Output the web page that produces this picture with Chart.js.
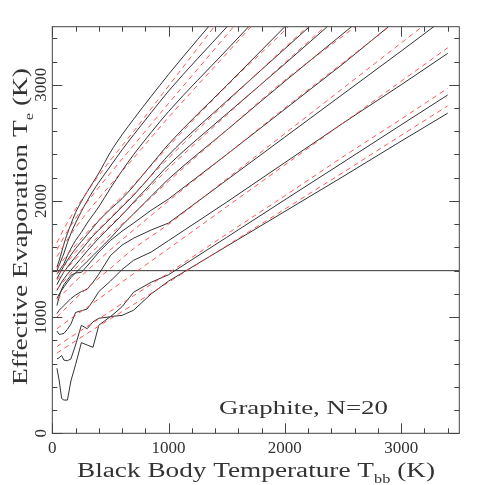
<!DOCTYPE html>
<html>
<head>
<meta charset="utf-8">
<script src="https://cdn.jsdelivr.net/npm/chart.js@4.4.1/dist/chart.umd.min.js"></script>
<style>
  html, body { margin: 0; padding: 0; background: #fff; }
  #wrap { width: 485px; height: 485px; }
</style>
</head>
<body>
<div id="wrap"><canvas id="grafico" width="485" height="485"></canvas></div>
<script>
// Tbb grid (K) for the computed curves
var evapTbb = [40, 60, 80, 100, 130, 160, 200, 250, 300, 350, 400, 500, 600, 700, 850, 1000, 1500, 2000, 2500, 3000, 3400];

// effective evaporation temperature, black solid curves (K)
var evap1  = [1430, 1490, 1560, 1630, 1720, 1800, 1900, 1995, 2080, 2160, 2240, 2420, 2570, 2705, 2900, 3090, 3685, null, null, null, null];
var evap2  = [1400, 1450, 1500, 1550, 1640, 1720, 1810, 1910, 2000, 2085, 2160, 2300, 2440, 2570, 2760, 2946, 3497, 4047, null, null, null];
var evap3  = [1370, 1400, 1430, 1460, 1530, 1590, 1660, 1730, 1810, 1880, 1950, 2110, 2260, 2400, 2590, 2770, 3300, 3830, null, null, null];
var evap4  = [1330, 1370, 1405, 1440, 1490, 1535, 1590, 1650, 1710, 1770, 1830, 1930, 2020, 2130, 2310, 2489, 2995, 3500, 4000, null, null];
var evap5  = [1280, 1320, 1355, 1390, 1430, 1470, 1520, 1580, 1640, 1700, 1750, 1850, 1950, 2050, 2220, 2395, 2860, 3310, 3760, null, null];
var evap6  = [1230, 1265, 1300, 1330, 1370, 1405, 1450, 1510, 1570, 1625, 1680, 1780, 1880, 1990, 2150, 2309, 2750, 3180, 3620, null, null];
var evap7  = [1160, 1200, 1230, 1260, 1300, 1340, 1380, 1430, 1480, 1530, 1580, 1680, 1790, 1890, 2040, 2189, 2610, 3030, 3440, 3850, null];
var evap8  = [1100, 1180, 1240, 1280, 1320, 1360, 1380, 1385, 1440, 1500, 1560, 1660, 1740, 1810, 1920, 2017, 2400, 2790, 3180, 3590, null];
var evap9  = [1030, 1060, 1080, 1100, 1130, 1160, 1190, 1220, 1240, 1300, 1370, 1530, 1620, 1680, 1750, 1810, 2180, 2550, 2920, 3290, 3590];
var evap10 = [880, 850, 855, 860, 895, 940, 1040, 1055, 1070, 1140, 1220, 1310, 1410, 1490, 1560, 1659, 1990, 2330, 2670, 3000, 3270];
var evap11 = [640, 650, 670, 630, 625, 640, 760, 930, 900, 960, 990, 1003, 1090, 1215, 1300, 1365, 1687, 2010, 2332, 2655, 2912];
var evap12 = [560, 450, 300, 286, 286, 450, 590, 780, 760, 740, 930, 1005, 1015, 1060, 1200, 1310, 1610, 1910, 2210, 2515, 2755];

// Tbb grid for the fitted (red dashed) curves
var fitTbb = [40, 100, 200, 300, 500, 700, 1000, 1500, 2000, 2500, 3000, 3400];
var fit1  = [1640, 1760, 1930, 2080, 2350, 2600, 2990, 3640, null, null, null, null];
var fit2  = [1580, 1690, 1850, 1990, 2240, 2480, 2840, 3430, 4020, null, null, null];
var fit3  = [1520, 1620, 1770, 1900, 2140, 2370, 2720, 3270, 3820, null, null, null];
var fit4  = [1420, 1500, 1620, 1730, 1940, 2140, 2470, 2990, 3470, 3990, null, null];
var fit5  = [1370, 1440, 1560, 1660, 1860, 2060, 2370, 2850, 3320, 3780, null, null];
var fit6  = [1320, 1390, 1500, 1600, 1790, 1980, 2280, 2740, 3190, 3640, null, null];
var fit7  = [1240, 1310, 1420, 1520, 1710, 1890, 2170, 2610, 3040, 3420, 3800, null];
var fit8  = [1150, 1210, 1310, 1400, 1580, 1750, 2000, 2400, 2800, 3190, 3580, null];
var fit9  = [1000, 1060, 1160, 1250, 1420, 1590, 1800, 2190, 2580, 2970, 3360, 3670];
var fit10 = [900, 945, 1015, 1085, 1230, 1375, 1590, 1950, 2310, 2670, 3030, 3318];
var fit11 = [745, 790, 855, 920, 1050, 1185, 1380, 1715, 2045, 2380, 2705, 2970];
var fit12 = [690, 730, 795, 860, 985, 1110, 1300, 1615, 1930, 2245, 2565, 2818];

// horizontal reference line
var refTbb = [0, 3500];
var refTe = [1400, 1400];

var majorTicks = [0, 1000, 2000, 3000];
var tickStep = 200;

function pontos(xs, ys) {
    var out = [];
    for (var i = 0; i < xs.length; i++) out.push({ x: xs[i], y: ys[i] });
    return out;
}

var datasets = [];
[fit1, fit2, fit3, fit4, fit5, fit6, fit7, fit8, fit9, fit10, fit11, fit12].forEach(function (f) {
    datasets.push({
        data: pontos(fitTbb, f), showLine: true, pointRadius: 0,
        borderColor: 'rgba(255,70,70,0.9)', borderWidth: 1, borderDash: [5, 4],
        cubicInterpolationMode: 'monotone', spanGaps: false
    });
});
[evap1, evap2, evap3, evap4, evap5, evap6, evap7, evap8, evap9, evap10, evap11, evap12].forEach(function (e, i) {
    datasets.push({
        data: pontos(evapTbb, e), showLine: true, pointRadius: 0,
        borderColor: '#333', borderWidth: 1, spanGaps: false,
        cubicInterpolationMode: i < 7 ? 'monotone' : 'default', tension: 0
    });
});
datasets.push({
    data: pontos(refTbb, refTe), showLine: true, pointRadius: 0,
    borderColor: '#333', borderWidth: 1
});

// text with a subscript part, centred on the origin and squeezed to a target width
function textoSub(ctx, parts, size, width) {
    var w = 0;
    ctx.textAlign = 'left';
    ctx.textBaseline = 'alphabetic';
    parts.forEach(function (p) {
        ctx.font = (p.sub ? Math.round(size * 0.62) : size) + 'px "Liberation Serif"';
        p.w = ctx.measureText(p.t).width;
        w += p.w;
    });
    var k = width / w;
    ctx.save();
    ctx.scale(k, 1);
    var x = -w / 2;
    parts.forEach(function (p) {
        ctx.font = (p.sub ? Math.round(size * 0.62) : size) + 'px "Liberation Serif"';
        ctx.fillText(p.t, x, p.sub ? size * 0.28 : 0);
        x += p.w;
    });
    ctx.restore();
}

var molduraPlugin = {
    id: 'moldura',
    afterDraw: function (chart) {
        var ctx = chart.ctx, a = chart.chartArea;
        var sx = chart.scales.x, sy = chart.scales.y;
        ctx.save();
        ctx.strokeStyle = '#444';
        ctx.lineWidth = 1;
        ctx.strokeRect(a.left, a.top, a.right - a.left, a.bottom - a.top);

        // inward ticks on all four sides
        ctx.beginPath();
        for (var v = 0; v <= 3500; v += tickStep) {
            var len = v % 1000 === 0 ? 10 : 5;
            var px = Math.round(sx.getPixelForValue(v)) + 0.5;
            ctx.moveTo(px, a.bottom); ctx.lineTo(px, a.bottom - len);
            ctx.moveTo(px, a.top); ctx.lineTo(px, a.top + len);
            var py = Math.round(sy.getPixelForValue(v)) + 0.5;
            ctx.moveTo(a.left, py); ctx.lineTo(a.left + len, py);
            ctx.moveTo(a.right, py); ctx.lineTo(a.right - len, py);
        }
        ctx.stroke();

        ctx.fillStyle = '#333';
        ctx.font = '17px "Liberation Serif"';
        ctx.textAlign = 'center';
        ctx.textBaseline = 'alphabetic';
        majorTicks.forEach(function (v) {
            ctx.fillText(String(v), sx.getPixelForValue(v), 453);
        });
        majorTicks.forEach(function (v) {
            ctx.save();
            ctx.translate(45.5, sy.getPixelForValue(v));
            ctx.rotate(-Math.PI / 2);
            ctx.textAlign = 'center';
            ctx.fillText(String(v), 0, 0);
            ctx.restore();
        });

        // axis titles
        ctx.save();
        ctx.translate(256, 477);
        textoSub(ctx, [{ t: 'Black Body Temperature T' }, { t: 'bb', sub: true }, { t: ' (K)' }], 20, 358);
        ctx.restore();

        ctx.save();
        ctx.translate(27, 226.5);
        ctx.rotate(-Math.PI / 2);
        textoSub(ctx, [{ t: 'Effective Evaporation T' }, { t: 'e', sub: true }, { t: ' (K)' }], 20, 317);
        ctx.restore();

        ctx.save();
        ctx.translate(303.5, 414.3);
        textoSub(ctx, [{ t: 'Graphite, N=20' }], 19, 169);
        ctx.restore();

        ctx.restore();
    }
};

new Chart(document.getElementById('grafico').getContext('2d'), {
    type: 'scatter',
    data: { datasets: datasets },
    options: {
        responsive: false,
        animation: false,
        events: [],
        layout: { padding: { top: 26.7, right: 25.7, left: 0, bottom: 0 } },
        plugins: { legend: { display: false }, tooltip: { enabled: false } },
        scales: {
            x: {
                type: 'linear', min: 0, max: 3500,
                grid: { display: false }, border: { display: false },
                ticks: { display: false },
                afterFit: function (s) { s.height = 51.7; }
            },
            y: {
                type: 'linear', min: 0, max: 3500,
                grid: { display: false }, border: { display: false },
                ticks: { display: false },
                afterFit: function (s) { s.width = 52.3; }
            }
        }
    },
    plugins: [molduraPlugin]
});
</script>
</body>
</html>
